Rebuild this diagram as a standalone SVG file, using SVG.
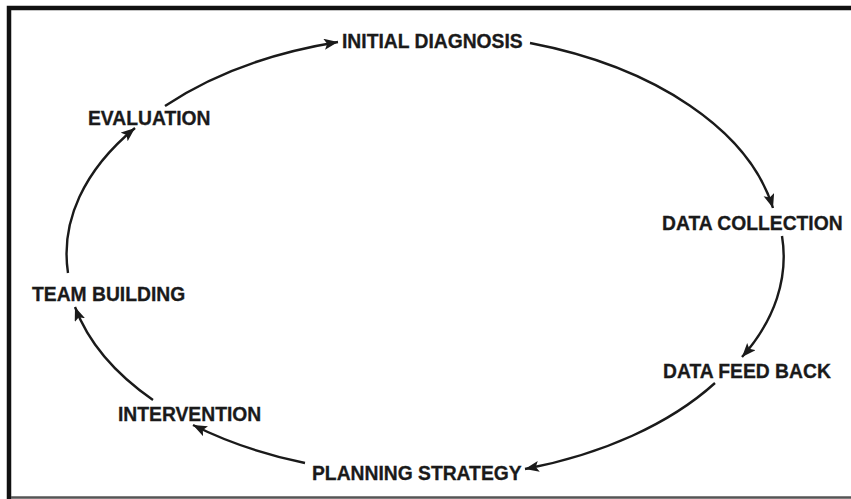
<svg xmlns="http://www.w3.org/2000/svg" width="851" height="499" viewBox="0 0 851 499">
<style>
.lbl{font-family:"Liberation Sans",Arial,Helvetica,sans-serif;font-weight:bold;font-size:19.3px;fill:#1a1a1a;stroke:#1a1a1a;stroke-width:0.3}
.arc{fill:none;stroke:#1a1a1a;stroke-width:2.4;marker-end:url(#ah)}
</style>
<defs>
<marker id="ah" markerUnits="userSpaceOnUse" markerWidth="15" markerHeight="12" refX="14" refY="5.5" orient="auto">
<path d="M0,0 L14,5.5 L0,11 L3,5.5 Z" fill="#1a1a1a"/>
</marker>
</defs>
<rect width="851" height="499" fill="#fff"/>
<g id="frame">
<path d="M9,499 V8 H851" fill="none" stroke="#111" stroke-width="4.5"/>
<path d="M11,497.5 H851" fill="none" stroke="#555" stroke-width="2.5"/>
</g>
<g id="connectors">
<path class="arc" d="M165,106 A358 214 0 0 1 338,42"/>
<path class="arc" d="M530,43 A358 214 0 0 1 773,208"/>
<path class="arc" d="M782,236 A358 214 0 0 1 742,357"/>
<path class="arc" d="M715,383 A358 214 0 0 1 525,469"/>
<path class="arc" d="M305,463 A358 214 0 0 1 193,425"/>
<path class="arc" d="M153,400 A358 214 0 0 1 75,307"/>
<path class="arc" d="M68,273 A358 214 0 0 1 135,128"/>
</g>
<g id="initial-diagnosis"><text class="lbl" x="342" y="48">INITIAL DIAGNOSIS</text></g>
<g id="data-collection"><text class="lbl" x="662" y="230">DATA COLLECTION</text></g>
<g id="data-feed-back"><text class="lbl" x="663" y="378">DATA FEED BACK</text></g>
<g id="planning-strategy"><text class="lbl" x="312" y="480">PLANNING STRATEGY</text></g>
<g id="intervention"><text class="lbl" x="118" y="421">INTERVENTION</text></g>
<g id="team-building"><text class="lbl" x="32" y="301">TEAM BUILDING</text></g>
<g id="evaluation"><text class="lbl" x="88" y="125">EVALUATION</text></g>
</svg>
